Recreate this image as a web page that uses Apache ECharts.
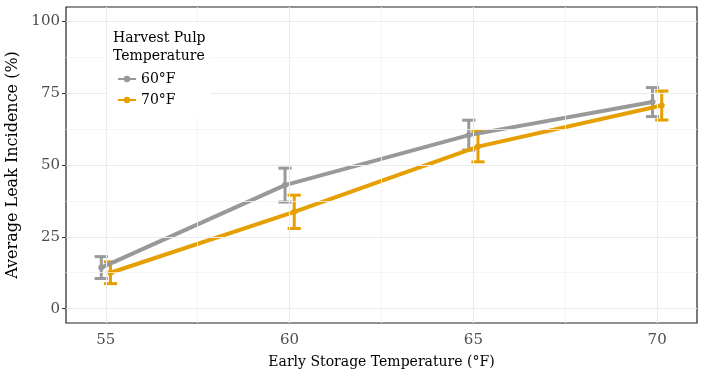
<!DOCTYPE html>
<html>
<head>
<meta charset="utf-8">
<script src="https://cdn.jsdelivr.net/npm/echarts@6/dist/echarts.min.js"></script>
<style>html,body{margin:0;padding:0;background:#fff}#c{width:703px;height:380px}</style>
</head>
<body>
<div id="c"></div>
<script>
// ---- data ----
var temps = [55, 60, 65, 70];                 // Early storage temperature (°F)
var groupNames = ['60°F', '70°F'];            // Harvest pulp temperature
var mean60 = [14.3, 43.0, 60.4, 71.9];
var err60  = [3.8, 5.9, 5.2, 5.05];
var mean70 = [12.5, 33.7, 56.4, 70.7];
var err70  = [3.8, 5.8, 5.3, 5.05];
var xTicks = [55, 60, 65, 70];
var xMinor = [57.5, 62.5, 67.5];
var yTicks = [0, 25, 50, 75, 100];
var yMinor = [12.5, 37.5, 62.5, 87.5];

var colors = ['#999999', '#E69F00'];
var dodge = [-0.125, 0.125];
var capHalf = 0.18;
var FONT = 'DejaVu Serif';

function rows(means, errs, off) {
  return temps.map(function (t, i) { return [t + off, means[i], errs[i]]; });
}
var data60 = rows(mean60, err60, dodge[0]);
var data70 = rows(mean70, err70, dodge[1]);

function errRender(color) {
  return function (params, api) {
    var x = api.value(0), m = api.value(1), e = api.value(2);
    var top = api.coord([x, m + e]);
    var bot = api.coord([x, m - e]);
    var hw = api.size([capHalf, 0])[0];
    var st = { stroke: color, lineWidth: 3 };
    return { type: 'group', children: [
      { type: 'line', shape: { x1: top[0], y1: top[1], x2: bot[0], y2: bot[1] }, style: st },
      { type: 'line', shape: { x1: top[0] - hw, y1: top[1], x2: top[0] + hw, y2: top[1] }, style: st },
      { type: 'line', shape: { x1: bot[0] - hw, y1: bot[1], x2: bot[0] + hw, y2: bot[1] }, style: st }
    ]};
  };
}

var gridLines = [];
xTicks.forEach(function (v) { gridLines.push({ xAxis: v, lineStyle: { color: '#ebebeb', width: 1.1 } }); });
xMinor.forEach(function (v) { gridLines.push({ xAxis: v, lineStyle: { color: '#f3f3f3', width: 0.8 } }); });
yTicks.forEach(function (v) { gridLines.push({ yAxis: v, lineStyle: { color: '#ebebeb', width: 1.1 } }); });
yMinor.forEach(function (v) { gridLines.push({ yAxis: v, lineStyle: { color: '#f3f3f3', width: 0.8 } }); });

var chart = echarts.init(document.getElementById('c'), null, { renderer: 'canvas' });
chart.setOption({
  animation: false,
  backgroundColor: '#fff',
  textStyle: { fontFamily: FONT },
  grid: { left: 66, right: 6, top: 7, bottom: 57, containLabel: false, outerBoundsMode: 'none',
    show: true, backgroundColor: '#fff', borderColor: '#222', borderWidth: 1.2 },
  xAxis: {
    type: 'value', min: 53.915, max: 71.085,
    name: 'Early Storage Temperature (°F)', nameLocation: 'middle', nameGap: 32,
    nameTextStyle: { fontFamily: FONT, fontSize: 14, color: '#000' },
    axisLine: { show: false },
    axisTick: { show: true, customValues: xTicks, length: 4, lineStyle: { color: '#333' } },
    axisLabel: { customValues: xTicks, fontFamily: FONT, fontSize: 15, color: '#4d4d4d', margin: 10 },
    splitLine: { show: false }
  },
  yAxis: {
    type: 'value', min: -5, max: 105,
    name: 'Average Leak Incidence (%)', nameLocation: 'middle', nameGap: 42,
    nameTextStyle: { fontFamily: FONT, fontSize: 16, color: '#000' },
    axisLine: { show: false },
    axisTick: { show: true, customValues: yTicks, length: 4, lineStyle: { color: '#333' } },
    axisLabel: { customValues: yTicks, fontFamily: FONT, fontSize: 15, color: '#4d4d4d', margin: 6 },
    splitLine: { show: false }
  },
  legend: {
    data: groupNames, orient: 'vertical', left: 112, top: 67, itemGap: 7,
    itemWidth: 18, itemHeight: 8, z: 20,
    textStyle: { fontFamily: FONT, fontSize: 14, color: '#000' }
  },
  graphic: [
    { type: 'rect', left: 107, top: 25, shape: { width: 103, height: 92 }, style: { fill: '#fff' }, z: 10 },
    { type: 'text', left: 113, top: 29, z: 20, style: { text: 'Harvest Pulp\nTemperature', font: '14px "DejaVu Serif"', fill: '#000', lineHeight: 18 } }
  ],
  series: [
    { type: 'line', data: [], silent: true, z: 1,
      markLine: { silent: true, symbol: ['none', 'none'], label: { show: false }, animation: false,
        lineStyle: { type: 'solid' }, data: gridLines } },
    { type: 'custom', name: 'err60', data: data60, renderItem: errRender(colors[0]), z: 3, silent: true },
    { type: 'custom', name: 'err70', data: data70, renderItem: errRender(colors[1]), z: 3, silent: true },
    { type: 'line', name: groupNames[0], data: data60.map(function (r) { return [r[0], r[1]]; }), z: 4,
      symbol: 'circle', symbolSize: 6, color: colors[0], lineStyle: { width: 4, color: colors[0] } },
    { type: 'line', name: groupNames[1], data: data70.map(function (r) { return [r[0], r[1]]; }), z: 4,
      symbol: 'circle', symbolSize: 6, color: colors[1], lineStyle: { width: 4, color: colors[1] } }
  ]
});
</script>
</body>
</html>
